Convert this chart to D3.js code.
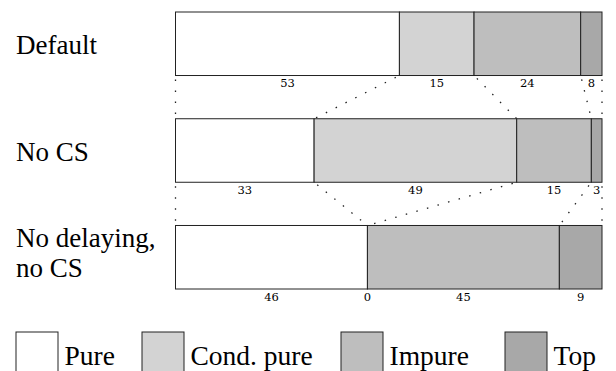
<!DOCTYPE html>
<html>
<head>
<meta charset="utf-8">
<script src="https://cdn.jsdelivr.net/npm/d3@7/dist/d3.min.js"></script>
<style>
  body { margin: 0; background: #fff; }
  svg { font-family: 'Liberation Serif', serif; }
</style>
</head>
<body>
<div id="chart"></div>
<script>
const rowNames = ['Default', 'No CS', 'No delaying, no CS'];
const rowLines = [['Default'], ['No CS'], ['No delaying,', 'no CS']];
const categories = ['Pure', 'Cond. pure', 'Impure', 'Top'];

// bar widths (share of the bar)
const pureShare = [52.5, 32.5, 45];
const condShare = [17.5, 47.5, 0];
const impureShare = [25, 17.5, 45];
const topShare = [5, 2.5, 10];

// numbers printed under each segment
const pureLabel = [53, 33, 46];
const condLabel = [15, 49, 0];
const impureLabel = [24, 15, 45];
const topLabel = [8, 3, 9];

const colors = ['#ffffff', '#d3d3d3', '#bebebe', '#a8a8a8'];

const width = 616;
const height = 371;

const shares = { 'Pure': pureShare, 'Cond. pure': condShare, 'Impure': impureShare, 'Top': topShare };
const labels = { 'Pure': pureLabel, 'Cond. pure': condLabel, 'Impure': impureLabel, 'Top': topLabel };

const data = rowNames.map((row, i) => {
    const d = { row };
    categories.forEach(c => { d[c] = shares[c][i]; });
    return d;
});

const series = d3.stack().keys(categories)(data);

const svg = d3.select('#chart').append('svg')
    .attr('width', width)
    .attr('height', height);

const x = d3.scaleLinear().domain([0, 100]).range([175.5, 602]);
const y = d3.scaleBand().domain(rowNames).range([12, 289]).paddingInner(0.405);
const color = d3.scaleOrdinal().domain(categories).range(colors);
const bw = y.bandwidth();

// dotted connectors between matching boundaries of consecutive bars
const bounds = rowNames.map((row, i) => [0, ...series.map(s => s[i][1])]);
const links = [];
for (let i = 0; i < rowNames.length - 1; i++) {
    bounds[i].forEach((b, k) => {
        links.push({ x1: x(b), y1: y(rowNames[i]) + bw, x2: x(bounds[i + 1][k]), y2: y(rowNames[i + 1]) });
    });
}

svg.selectAll('.link')
    .data(links)
    .enter()
    .append('line')
    .attr('class', 'link')
    .attr('x1', d => d.x1)
    .attr('y1', d => d.y1)
    .attr('x2', d => d.x2)
    .attr('y2', d => d.y2)
    .attr('stroke', '#222')
    .attr('stroke-width', 1.3)
    .attr('stroke-dasharray', '1.5 9.5')
    .attr('stroke-dashoffset', -4);

// stacked segments
const groups = svg.selectAll('.series')
    .data(series)
    .enter()
    .append('g')
    .attr('class', 'series')
    .attr('fill', d => color(d.key));

groups.selectAll('rect')
    .data(d => d)
    .enter()
    .append('rect')
    .attr('x', d => x(d[0]))
    .attr('y', d => y(d.data.row))
    .attr('width', d => x(d[1]) - x(d[0]))
    .attr('height', bw)
    .attr('stroke', '#222')
    .attr('stroke-width', 1);

// numbers below segments
groups.selectAll('text')
    .data(d => d.map((p, i) => ({ p, text: labels[d.key][i] })))
    .enter()
    .append('text')
    .attr('x', d => x((d.p[0] + d.p[1]) / 2))
    .attr('y', d => y(d.p.data.row) + bw + 11.5)
    .attr('text-anchor', 'middle')
    .attr('fill', '#000')
    .style('font-family', "'DejaVu Serif', serif")
    .style('font-size', '11.5px')
    .text(d => d.text);

// row labels
const rowText = svg.selectAll('.row-label')
    .data(rowNames)
    .enter()
    .append('text')
    .attr('class', 'row-label')
    .attr('x', 16)
    .style('font-size', '27px')
    .attr('fill', '#000');

rowText.each(function(row, i) {
    const el = d3.select(this);
    const lines = rowLines[i];
    const lineHeight = 30;
    const first = y(row) + bw / 2 + 10.5 - (lines.length - 1) * (lineHeight / 2 + 5.5);
    lines.forEach((line, j) => {
        el.append('tspan')
            .attr('x', 16)
            .attr('y', first + j * lineHeight)
            .text(line);
    });
});

// legend
const legendX = [16, 142, 341, 505];
const legend = svg.selectAll('.legend-item')
    .data(categories)
    .enter()
    .append('g')
    .attr('class', 'legend-item')
    .attr('transform', (d, i) => `translate(${legendX[i]}, 332)`);

legend.append('rect')
    .attr('width', 42)
    .attr('height', 42)
    .attr('fill', d => color(d))
    .attr('stroke', '#222')
    .attr('stroke-width', 1);

legend.append('text')
    .attr('x', 48.5)
    .attr('y', 33)
    .style('font-size', '27.5px')
    .attr('fill', '#000')
    .text(d => d);
</script>
</body>
</html>
